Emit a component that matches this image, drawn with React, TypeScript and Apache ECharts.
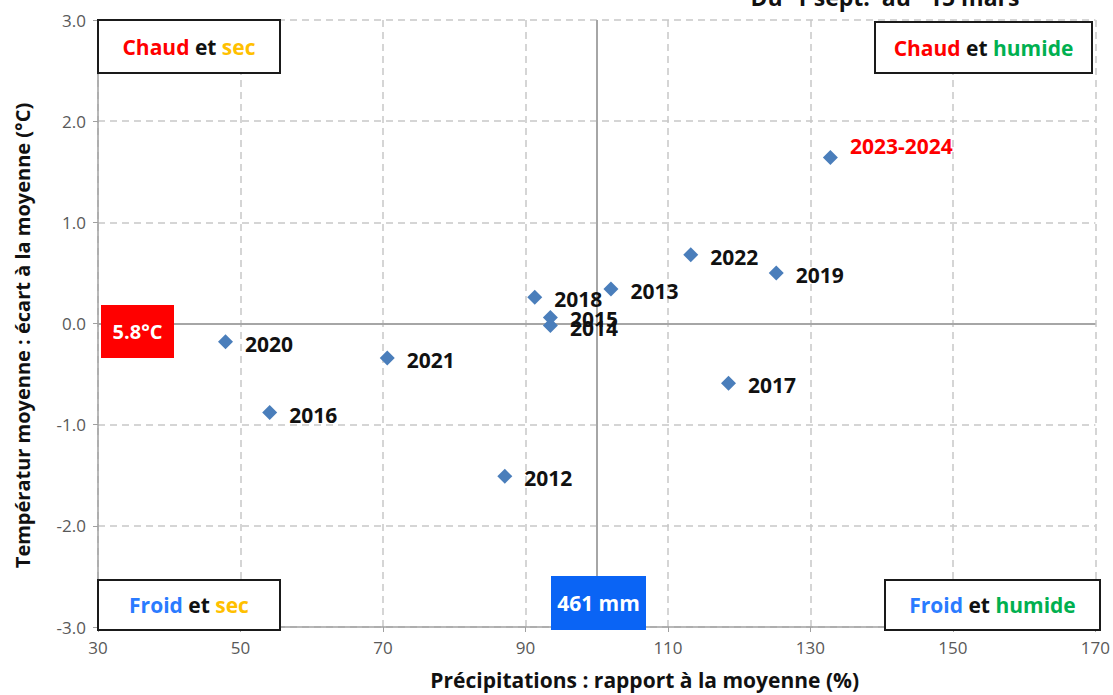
import React, { useEffect, useRef } from "react";
import * as echarts from "echarts";

const years = ["2012", "2013", "2014", "2015", "2016", "2017", "2018", "2019", "2020", "2021", "2022", "2023-2024"];
const precipRatio = [87.1, 102.0, 93.5, 93.5, 54.1, 118.5, 91.3, 125.2, 47.9, 70.6, 113.2, 132.8];
const tempAnomaly = [-1.51, 0.34, -0.02, 0.06, -0.88, -0.59, 0.26, 0.50, -0.18, -0.34, 0.68, 1.64];
const highlightYear = "2023-2024";
const xTicks = { min: 30, max: 170, interval: 20 };
const yTicks = { min: -3, max: 3, interval: 1 };
const refTemp = "5.8°C";
const refPrecip = "461 mm";
const periodTitle = "Du  1 sept.  au   15 mars";

const FONT = "Open Sans";

function box(x: number, y: number, w: number, h: number, text: string, fill = "#ffffff", stroke = "#1a1a1a", textColor = "#1a1a1a", fontSize = 21, lineWidth = 2) {
  return {
    type: "group",
    z: 100,
    children: [
      {
        type: "rect",
        shape: { x, y, width: w, height: h },
        style: { fill, stroke, lineWidth },
        z: 100,
      },
      {
        type: "text",
        x: x + w / 2,
        y: y + h / 2,
        z: 101,
        style: {
          text,
          align: "center",
          verticalAlign: "middle",
          fontFamily: FONT,
          fontWeight: "bold",
          fontSize,
          fill: textColor,
          rich: {
            r: { fill: "#ff0000", color: "#ff0000", fontFamily: FONT, fontWeight: "bold", fontSize },
            k: { fill: "#111111", color: "#111111", fontFamily: FONT, fontWeight: "bold", fontSize },
            y: { fill: "#ffc000", color: "#ffc000", fontFamily: FONT, fontWeight: "bold", fontSize },
            g: { fill: "#00b050", color: "#00b050", fontFamily: FONT, fontWeight: "bold", fontSize },
            b: { fill: "#2a7bff", color: "#2a7bff", fontFamily: FONT, fontWeight: "bold", fontSize },
          },
        },
      },
    ],
  };
}

export default function App() {
  const ref = useRef<HTMLDivElement>(null);
  useEffect(() => {
    document.body.style.margin = "0";
    const chart = echarts.init(ref.current!, undefined, { renderer: "svg" });
    const data = years.map((name, i) => {
      const item: any = { name, value: [precipRatio[i], tempAnomaly[i]] };
      if (name === highlightYear) {
        item.label = { color: "#ff0000", offset: [0, -12] };
      }
      return item;
    });
    const gridLine = { show: true, lineStyle: { color: "#c8c8c8", type: [7, 5], width: 1.5 } };
    chart.setOption({
      animation: false,
      backgroundColor: "#ffffff",
      grid: { left: 98, right: 14, top: 20, bottom: 65, containLabel: false },
      xAxis: {
        type: "value",
        min: xTicks.min,
        max: xTicks.max,
        interval: xTicks.interval,
        name: "Précipitations : rapport à la moyenne (%)",
        nameLocation: "middle",
        nameGap: 42,
        nameTextStyle: { fontFamily: FONT, fontWeight: "bold", fontSize: 21, color: "#111111", padding: [0, 0, 0, 96] },
        axisLine: { show: true, onZero: false, lineStyle: { color: "#a0a0a0", width: 1.5 } },
        axisTick: { show: true, length: 5, lineStyle: { color: "#a0a0a0" } },
        axisLabel: { fontFamily: FONT, fontSize: 17, color: "#595959", margin: 12 },
        splitLine: gridLine,
      },
      yAxis: {
        type: "value",
        min: yTicks.min,
        max: yTicks.max,
        interval: yTicks.interval,
        name: "Températur moyenne : écart à la moyenne (°C)",
        nameLocation: "middle",
        nameGap: 66,
        nameTextStyle: { fontFamily: FONT, fontWeight: "bold", fontSize: 20, color: "#111111", padding: [0, 24, 0, 0] },
        axisLine: { show: true, onZero: false, lineStyle: { color: "#a0a0a0", width: 1.5 } },
        axisTick: { show: true, length: 5, lineStyle: { color: "#a0a0a0" } },
        axisLabel: { fontFamily: FONT, fontSize: 17, color: "#595959", margin: 12, formatter: (v: number) => v.toFixed(1) },
        splitLine: gridLine,
      },
      series: [
        {
          type: "scatter",
          symbol: "diamond",
          symbolSize: 15,
          itemStyle: { color: "#4a7ebb", opacity: 1 },
          data,
          label: {
            show: true,
            position: "right",
            distance: 12,
            offset: [0, 2],
            formatter: (p: any) => p.name,
            fontFamily: FONT,
            fontWeight: "bold",
            fontSize: 21,
            color: "#111111",
          },
          markLine: {
            silent: true,
            symbol: "none",
            label: { show: false },
            lineStyle: { color: "#a6a6a6", type: "solid", width: 2 },
            data: [{ xAxis: 100 }, { yAxis: 0 }],
            z: 1,
          },
        },
      ],
      graphic: [
        {
          type: "text",
          x: 885,
          y: -3,
          z: 100,
          style: { text: periodTitle, align: "center", verticalAlign: "middle", fontFamily: FONT, fontWeight: "bold", fontSize: 23, fill: "#111111" },
        },
        box(98, 20, 182, 53, "{r|Chaud} {k|et} {y|sec}"),
        box(875, 22, 217, 51, "{r|Chaud} {k|et} {g|humide}"),
        box(98, 580, 182, 50, "{b|Froid} {k|et} {y|sec}"),
        box(885, 580, 215, 50, "{b|Froid} {k|et} {g|humide}"),
        box(101, 305, 73, 53, refTemp, "#ff0000", "#ff0000", "#ffffff", 20, 0),
        box(551, 576, 95, 54, refPrecip, "#0a64f5", "#0a64f5", "#ffffff", 21, 0),
      ],
    });
    return () => chart.dispose();
  }, []);
  return <div ref={ref} style={{ width: 1113, height: 695 }} />;
}
